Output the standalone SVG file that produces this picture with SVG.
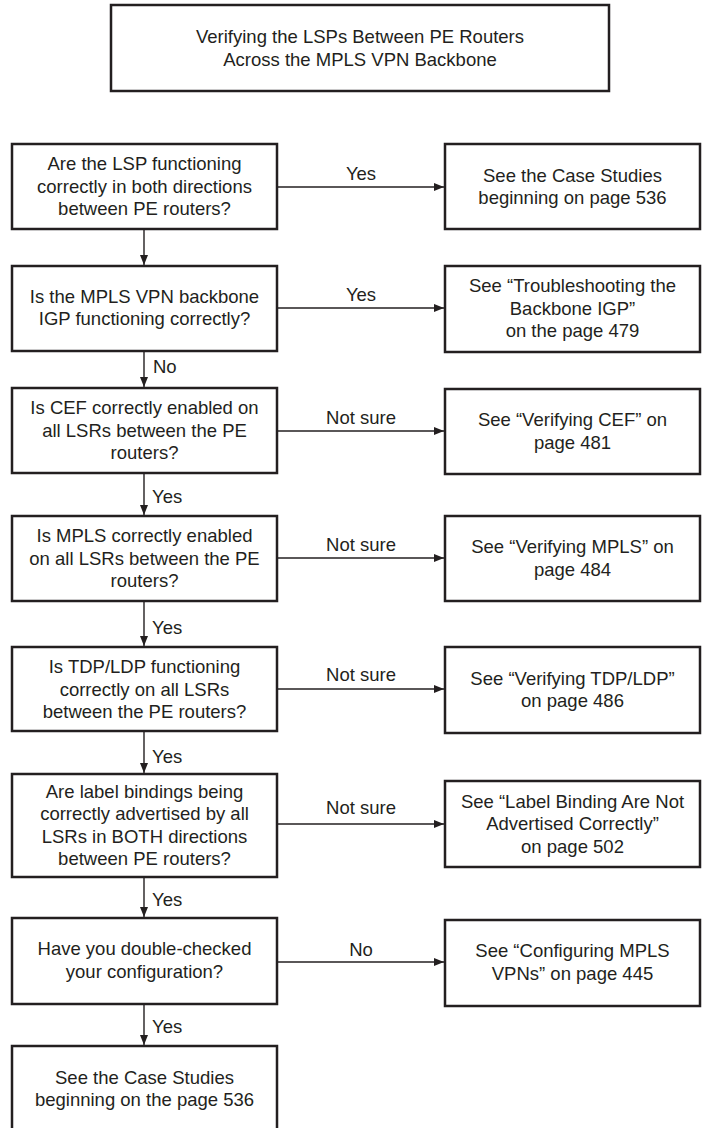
<svg xmlns="http://www.w3.org/2000/svg" width="702" height="1128" viewBox="0 0 702 1128">
<defs>
<style>
.box{fill:#fff;stroke:#231f20;stroke-width:2.5}
.t{font-family:"Liberation Sans",Arial,sans-serif;font-size:18.5px;fill:#231f20;text-anchor:middle}
.l{font-family:"Liberation Sans",Arial,sans-serif;font-size:18.5px;fill:#231f20}
.c{stroke:#231f20;stroke-width:1.4;fill:none;marker-end:url(#ah)}
</style>
<marker id="ah" markerUnits="userSpaceOnUse" markerWidth="11" markerHeight="8" refX="10" refY="4" orient="auto">
<path d="M0,0 L10,4 L0,8 z" fill="#231f20"/>
</marker>
</defs>
<rect width="702" height="1128" fill="#fff"/>

<g id="title">
<rect class="box" x="111" y="5" width="498" height="86"/>
<text class="t" x="360" y="43">Verifying the LSPs Between PE Routers</text>
<text class="t" x="360" y="66">Across the MPLS VPN Backbone</text>
</g>

<g id="connectors">
<line class="c" x1="277" y1="187" x2="444" y2="187"/>
<line class="c" x1="277" y1="308" x2="444" y2="308"/>
<line class="c" x1="277" y1="431" x2="444" y2="431"/>
<line class="c" x1="277" y1="558" x2="444" y2="558"/>
<line class="c" x1="277" y1="689" x2="444" y2="689"/>
<line class="c" x1="277" y1="824" x2="444" y2="824"/>
<line class="c" x1="277" y1="962" x2="444" y2="962"/>
<line class="c" x1="144" y1="229" x2="144" y2="265"/>
<line class="c" x1="144" y1="351" x2="144" y2="387"/>
<line class="c" x1="144" y1="473" x2="144" y2="515"/>
<line class="c" x1="144" y1="601" x2="144" y2="646"/>
<line class="c" x1="144" y1="731" x2="144" y2="773"/>
<line class="c" x1="144" y1="877" x2="144" y2="917"/>
<line class="c" x1="144" y1="1004" x2="144" y2="1045"/>
<text class="t" x="361" y="180">Yes</text>
<text class="t" x="361" y="301">Yes</text>
<text class="t" x="361" y="424">Not sure</text>
<text class="t" x="361" y="551">Not sure</text>
<text class="t" x="361" y="681">Not sure</text>
<text class="t" x="361" y="814">Not sure</text>
<text class="t" x="361" y="956">No</text>
<text class="l" x="153" y="373">No</text>
<text class="l" x="152" y="503">Yes</text>
<text class="l" x="152" y="634">Yes</text>
<text class="l" x="152" y="763">Yes</text>
<text class="l" x="152" y="906">Yes</text>
<text class="l" x="152" y="1033">Yes</text>
</g>

<g id="q1">
<rect class="box" x="12" y="144" width="265" height="85"/>
<text class="t" x="144.5" y="170">Are the LSP functioning</text>
<text class="t" x="144.5" y="193">correctly in both directions</text>
<text class="t" x="144.5" y="215">between PE routers?</text>
</g>
<g id="r1">
<rect class="box" x="445" y="144" width="255" height="85"/>
<text class="t" x="572.5" y="182">See the Case Studies</text>
<text class="t" x="572.5" y="204">beginning on page 536</text>
</g>

<g id="q2">
<rect class="box" x="12" y="266" width="265" height="85"/>
<text class="t" x="144.5" y="303">Is the MPLS VPN backbone</text>
<text class="t" x="144.5" y="325">IGP functioning correctly?</text>
</g>
<g id="r2">
<rect class="box" x="445" y="266" width="255" height="86"/>
<text class="t" x="572.5" y="292">See “Troubleshooting the</text>
<text class="t" x="572.5" y="315">Backbone IGP”</text>
<text class="t" x="572.5" y="337">on the page 479</text>
</g>

<g id="q3">
<rect class="box" x="12" y="388" width="265" height="85"/>
<text class="t" x="144.5" y="414">Is CEF correctly enabled on</text>
<text class="t" x="144.5" y="437">all LSRs between the PE</text>
<text class="t" x="144.5" y="459">routers?</text>
</g>
<g id="r3">
<rect class="box" x="445" y="389" width="255" height="85"/>
<text class="t" x="572.5" y="426">See “Verifying CEF” on</text>
<text class="t" x="572.5" y="449">page 481</text>
</g>

<g id="q4">
<rect class="box" x="12" y="516" width="265" height="85"/>
<text class="t" x="144.5" y="542">Is MPLS correctly enabled</text>
<text class="t" x="144.5" y="565">on all LSRs between the PE</text>
<text class="t" x="144.5" y="587">routers?</text>
</g>
<g id="r4">
<rect class="box" x="445" y="516" width="255" height="85"/>
<text class="t" x="572.5" y="553">See “Verifying MPLS” on</text>
<text class="t" x="572.5" y="576">page 484</text>
</g>

<g id="q5">
<rect class="box" x="12" y="647" width="265" height="84"/>
<text class="t" x="144.5" y="673">Is TDP/LDP functioning</text>
<text class="t" x="144.5" y="696">correctly on all LSRs</text>
<text class="t" x="144.5" y="718">between the PE routers?</text>
</g>
<g id="r5">
<rect class="box" x="445" y="647" width="255" height="86"/>
<text class="t" x="572.5" y="685">See “Verifying TDP/LDP”</text>
<text class="t" x="572.5" y="707">on page 486</text>
</g>

<g id="q6">
<rect class="box" x="12" y="774" width="265" height="103"/>
<text class="t" x="144.5" y="798">Are label bindings being</text>
<text class="t" x="144.5" y="820">correctly advertised by all</text>
<text class="t" x="144.5" y="843">LSRs in BOTH directions</text>
<text class="t" x="144.5" y="865">between PE routers?</text>
</g>
<g id="r6">
<rect class="box" x="445" y="781" width="255" height="86"/>
<text class="t" x="572.5" y="808">See “Label Binding Are Not</text>
<text class="t" x="572.5" y="830">Advertised Correctly”</text>
<text class="t" x="572.5" y="853">on page 502</text>
</g>

<g id="q7">
<rect class="box" x="12" y="918" width="265" height="86"/>
<text class="t" x="144.5" y="955">Have you double-checked</text>
<text class="t" x="144.5" y="978">your configuration?</text>
</g>
<g id="r7">
<rect class="box" x="445" y="920" width="255" height="86"/>
<text class="t" x="572.5" y="957">See “Configuring MPLS</text>
<text class="t" x="572.5" y="980">VPNs” on page 445</text>
</g>

<g id="end">
<rect class="box" x="12" y="1046" width="265" height="88"/>
<text class="t" x="144.5" y="1084">See the Case Studies</text>
<text class="t" x="144.5" y="1106">beginning on the page 536</text>
</g>
</svg>
